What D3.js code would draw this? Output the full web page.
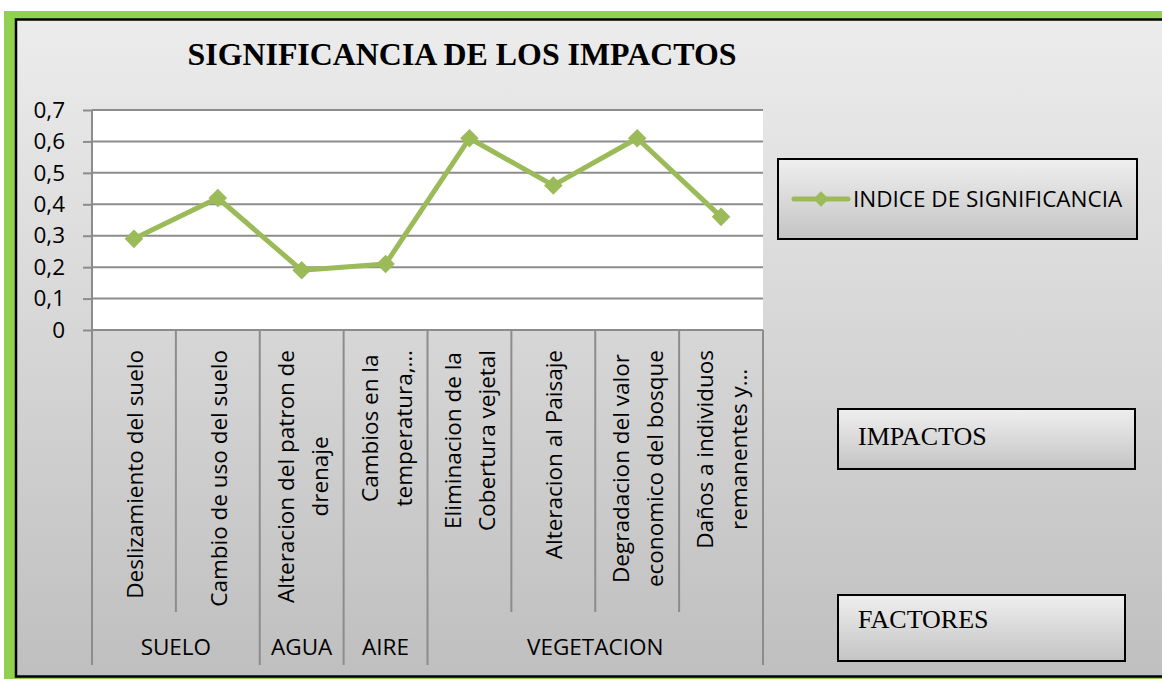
<!DOCTYPE html>
<html lang="es">
<head>
<meta charset="UTF-8">
<title>Significancia de los impactos</title>
<script src="https://cdn.jsdelivr.net/npm/d3@7"></script>
<style>
    body { margin: 0; background: #ffffff; }
    svg { display: block; }
</style>
</head>
<body>
<script>

    // DATA
    const categories = [
        ["Deslizamiento del suelo"],
        ["Cambio de uso del suelo"],
        ["Alteracion del patron de", "drenaje"],
        ["Cambios en la", "temperatura,…"],
        ["Eliminacion de la", "Cobertura vejetal"],
        ["Alteracion al Paisaje"],
        ["Degradacion del valor", "economico del bosque"],
        ["Daños a individuos", "remanentes y…"]
    ]
    const values = [0.29, 0.42, 0.19, 0.21, 0.61, 0.46, 0.61, 0.36]
    const groups = [
        {name: "SUELO", from: 0, to: 1},
        {name: "AGUA", from: 2, to: 2},
        {name: "AIRE", from: 3, to: 3},
        {name: "VEGETACION", from: 4, to: 7}
    ]
    const yTicks = [0, 0.1, 0.2, 0.3, 0.4, 0.5, 0.6, 0.7]
    const seriesName = "INDICE DE SIGNIFICANCIA"

    const W = 1162, H = 679
    const sans = "'Open Sans', sans-serif"
    const serif = "'Liberation Serif', 'Times New Roman', serif"
    const fs = "22.5px"
    const green = "#9bbb59"
    const gridColor = "#8c8c8c"

    let svg = d3.select("body").append("svg").attr("width", W).attr("height", H)

    // GRADIENTS
    let defs = svg.append("defs")
    let bg = defs.append("linearGradient").attr("id", "bg").attr("x1", 0).attr("y1", 0).attr("x2", 0).attr("y2", 1)
    bg.append("stop").attr("offset", "0%").attr("stop-color", "#ececec")
    bg.append("stop").attr("offset", "100%").attr("stop-color", "#bfbfbf")
    let box = defs.append("linearGradient").attr("id", "box").attr("x1", 0).attr("y1", 0).attr("x2", 0).attr("y2", 1)
    box.append("stop").attr("offset", "0%").attr("stop-color", "#efefef")
    box.append("stop").attr("offset", "100%").attr("stop-color", "#c4c4c4")

    // FRAME
    svg.append("rect").attr("x", 4).attr("y", 11).attr("width", W + 20).attr("height", H + 20).attr("fill", "#92d050")
    svg.append("rect").attr("x", 16).attr("y", 19.5).attr("width", W + 20).attr("height", 657)
        .attr("fill", "url(#bg)").attr("stroke", "#000").attr("stroke-width", 2.5)

    // TITLE
    svg.append("text").attr("x", 462).attr("y", 65).attr("text-anchor", "middle")
        .attr("textLength", 549).attr("lengthAdjust", "spacingAndGlyphs")
        .style("font-family", serif).style("font-weight", "bold").style("font-size", "31px")
        .text("SIGNIFICANCIA DE LOS IMPACTOS")

    // SCALES
    const pLeft = 92, pRight = 763, pTop = 110, pBottom = 330
    let x_scale = d3.scaleBand().domain(d3.range(categories.length)).range([pLeft, pRight]).padding(0)
    let y_scale = d3.scaleLinear().domain([0, 0.7]).range([pBottom, pTop])

    // PLOT AREA
    svg.append("rect").attr("x", pLeft).attr("y", pTop).attr("width", pRight - pLeft).attr("height", pBottom - pTop).attr("fill", "#fff")

    // Y AXIS + GRID
    let y_axis = d3.axisLeft(y_scale).tickValues(yTicks).tickSize(9).tickPadding(18)
        .tickFormat(d => d3.format(".1f")(d).replace(".", ",").replace(/^0,0$/, "0"))
    let yg = svg.append("g").attr("transform", `translate(${pLeft},0)`).call(y_axis)
    yg.select(".domain").remove()
    yg.selectAll(".tick line").attr("stroke", gridColor).attr("stroke-width", 2)
    yg.selectAll(".tick text").style("font-family", sans).style("font-size", fs).attr("fill", "#000")
    svg.append("g").selectAll("line").data(yTicks).join("line")
        .attr("x1", pLeft).attr("x2", pRight).attr("y1", d => y_scale(d)).attr("y2", d => y_scale(d))
        .attr("stroke", gridColor).attr("stroke-width", 2)
    svg.append("line").attr("x1", pLeft).attr("x2", pLeft).attr("y1", pTop).attr("y2", pBottom)
        .attr("stroke", gridColor).attr("stroke-width", 2)

    // X AXIS DIVIDERS
    const groupEdges = new Set([0])
    groups.forEach(g => groupEdges.add(g.to + 1))
    let edges = d3.range(categories.length + 1)
    svg.append("g").selectAll("line").data(edges).join("line")
        .attr("x1", i => i < categories.length ? x_scale(i) : pRight)
        .attr("x2", i => i < categories.length ? x_scale(i) : pRight)
        .attr("y1", pBottom).attr("y2", i => groupEdges.has(i) ? 665 : 612)
        .attr("stroke", gridColor).attr("stroke-width", 2)

    // CATEGORY LABELS (rotated)
    const lineGap = 34
    let labels = svg.append("g").selectAll("g").data(categories).join("g")
        .attr("transform", (d, i) => `translate(${x_scale(i) + x_scale.bandwidth() / 2},350) rotate(-90)`)
    labels.each(function(lines) {
        let g = d3.select(this)
        let t = g.append("text").attr("text-anchor", "middle").attr("dominant-baseline", "central")
            .style("font-family", sans).style("font-size", fs)
        lines.forEach((ln, k) => {
            t.append("tspan").attr("x", 0).attr("y", (k - (lines.length - 1) / 2) * lineGap).text(ln)
        })
        let maxLen = d3.max(t.selectAll("tspan").nodes(), n => n.getComputedTextLength())
        t.selectAll("tspan").attr("x", -maxLen / 2)
    })

    // GROUP LABELS
    svg.append("g").selectAll("text").data(groups).join("text")
        .attr("x", g => (x_scale(g.from) + x_scale(g.to) + x_scale.bandwidth()) / 2)
        .attr("y", 655).attr("text-anchor", "middle")
        .style("font-family", sans).style("font-size", fs)
        .text(g => g.name)

    // LINE + MARKERS
    let line = d3.line().x((d, i) => x_scale(i) + x_scale.bandwidth() / 2).y(d => y_scale(d))
    svg.append("path").datum(values).attr("d", line)
        .attr("fill", "none").attr("stroke", green).attr("stroke-width", 5).attr("stroke-linejoin", "round")
    let diamond = d3.symbol().type(d3.symbolDiamond2).size(220)
    svg.append("g").selectAll("path").data(values).join("path")
        .attr("transform", (d, i) => `translate(${x_scale(i) + x_scale.bandwidth() / 2},${y_scale(d)})`)
        .attr("d", diamond).attr("fill", green)

    // LEGEND
    svg.append("rect").attr("x", 778).attr("y", 159).attr("width", 359).attr("height", 80)
        .attr("fill", "url(#box)").attr("stroke", "#000").attr("stroke-width", 2)
    svg.append("line").attr("x1", 794).attr("x2", 848).attr("y1", 199).attr("y2", 199)
        .attr("stroke", green).attr("stroke-width", 5).attr("stroke-linecap", "round")
    svg.append("path").attr("transform", "translate(821,199)").attr("d", d3.symbol().type(d3.symbolDiamond2).size(150)).attr("fill", green)
    svg.append("text").attr("x", 853).attr("y", 207).style("font-family", sans).style("font-size", fs).text(seriesName)

    // TEXT BOXES
    const boxes = [
        {label: "IMPACTOS", x: 838, y: 409, w: 297, h: 60, ty: 36},
        {label: "FACTORES", x: 838, y: 595, w: 287, h: 66, ty: 33}
    ]
    let bx = svg.append("g").selectAll("g").data(boxes).join("g")
    bx.append("rect").attr("x", d => d.x).attr("y", d => d.y).attr("width", d => d.w).attr("height", d => d.h)
        .attr("fill", "url(#box)").attr("stroke", "#000").attr("stroke-width", 2)
    bx.append("text").attr("x", d => d.x + 20).attr("y", d => d.y + d.ty)
        .style("font-family", serif).style("font-size", "26px").text(d => d.label)

</script>
</body>
</html>
